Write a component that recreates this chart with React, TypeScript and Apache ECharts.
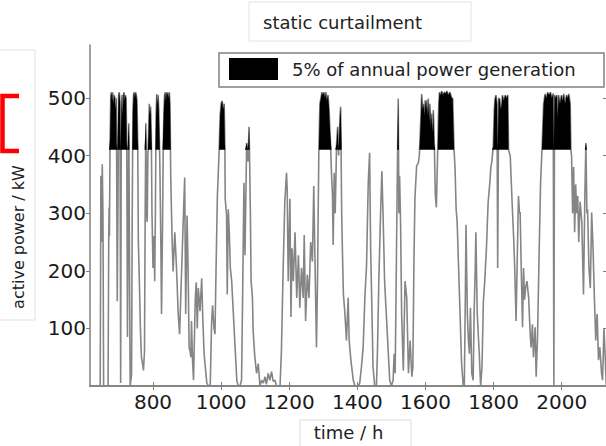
import React, { useEffect, useRef } from "react";
import * as echarts from "echarts";

// time in hours, active power in kW
const hours = [
  640, 645, 647, 649, 651, 653, 655, 668, 670, 671, 672, 674, 676, 678, 680, 682, 684, 686, 688, 690,
  692, 693, 695, 697, 699, 701, 703, 705, 707, 709, 711, 713, 715, 717, 719, 721, 723, 725, 727, 729,
  731, 733, 735, 737, 739, 741, 743, 745, 747, 749, 751, 753, 755, 757, 760, 763, 766, 769, 772, 775,
  777, 779, 781, 783, 785, 787, 789, 791, 793, 795, 797, 800, 803, 805, 807, 809, 811, 813, 815, 817,
  820, 823, 825, 828, 830, 832, 834, 836, 838, 840, 842, 844, 846, 848, 850, 852, 856, 859, 864, 869,
  874, 878, 883, 888, 893, 896, 900, 903, 906, 909, 911, 913, 916, 919, 924, 927, 930, 933, 938, 943,
  946, 950, 954, 958, 963, 968, 972, 975, 979, 982, 985, 989, 994, 997, 1000, 1003, 1006, 1009, 1011, 1012,
  1016, 1018, 1021, 1024, 1027, 1031, 1036, 1041, 1046, 1050, 1055, 1060, 1063, 1067, 1070, 1075, 1079, 1082, 1084, 1086,
  1088, 1092, 1094, 1099, 1104, 1109, 1114, 1119, 1124, 1129, 1133, 1138, 1143, 1148, 1153, 1158, 1163, 1173, 1177, 1182,
  1187, 1192, 1194, 1197, 1202, 1205, 1208, 1212, 1217, 1222, 1227, 1231, 1236, 1241, 1244, 1248, 1253, 1258, 1263, 1268,
  1270, 1272, 1275, 1280, 1283, 1285, 1287, 1290, 1293, 1296, 1299, 1302, 1305, 1308, 1310, 1314, 1317, 1320, 1324, 1327,
  1329, 1332, 1335, 1339, 1342, 1345, 1349, 1351, 1354, 1356, 1359, 1363, 1368, 1373, 1376, 1381, 1388, 1393, 1402, 1407,
  1412, 1417, 1422, 1427, 1432, 1436, 1439, 1443, 1446, 1451, 1456, 1459, 1463, 1468, 1472, 1476, 1480, 1485, 1490, 1495,
  1500, 1505, 1508, 1511, 1514, 1517, 1520, 1522, 1524, 1527, 1530, 1535, 1540, 1545, 1550, 1555, 1560, 1563, 1566, 1569,
  1574, 1579, 1582, 1584, 1589, 1592, 1594, 1597, 1599, 1602, 1604, 1607, 1608, 1611, 1613, 1616, 1618, 1621, 1623, 1626,
  1629, 1632, 1636, 1639, 1641, 1644, 1648, 1651, 1655, 1659, 1663, 1667, 1672, 1677, 1680, 1684, 1687, 1690, 1693, 1697,
  1701, 1706, 1711, 1714, 1717, 1719, 1723, 1726, 1729, 1732, 1736, 1740, 1743, 1746, 1748, 1752, 1758, 1762, 1766, 1770,
  1774, 1779, 1784, 1789, 1792, 1795, 1799, 1802, 1804, 1807, 1810, 1812, 1815, 1818, 1821, 1824, 1826, 1830, 1834, 1838,
  1842, 1844, 1849, 1852, 1856, 1859, 1862, 1866, 1869, 1873, 1876, 1878, 1881, 1885, 1888, 1891, 1894, 1898, 1903, 1907,
  1910, 1914, 1917, 1922, 1925, 1929, 1934, 1938, 1942, 1945, 1947, 1951, 1955, 1959, 1963, 1967, 1971, 1975, 1977, 1979,
  1983, 1986, 1988, 1991, 1995, 1999, 2003, 2006, 2010, 2014, 2018, 2021, 2025, 2027, 2029, 2032, 2035, 2038, 2041, 2044,
  2047, 2050, 2054, 2059, 2064, 2068, 2071, 2074, 2076, 2080, 2084, 2088, 2092, 2096, 2100, 2104, 2108, 2112, 2117, 2120,
  2124, 2127, 2131,
];

const powerKW = [
  0, 0, 365, 250, 385, 300, 0, 0, 250, 310, 260, 430, 505, 510, 495, 510, 490, 505, 500, 480,
  500, 420, 147, 300, 505, 510, 495, 5, 480, 505, 470, 505, 510, 495, 505, 500, 420, 85, 300, 456,
  200, 0, 0, 20, 300, 480, 507, 510, 500, 510, 505, 495, 430, 250, 180, 100, 50, 40, 27, 60,
  300, 456, 300, 285, 400, 440, 490, 470, 485, 440, 300, 205, 260, 182, 300, 470, 507, 490, 505, 480,
  387, 250, 125, 280, 410, 480, 505, 510, 495, 510, 505, 510, 500, 510, 490, 365, 256, 199, 267, 205,
  125, 90, 182, 273, 362, 125, 296, 205, 67, 60, 50, 113, 45, 10, 150, 180, 100, 170, 130, 187,
  120, 56, 30, 5, 0, 0, 110, 140, 100, 90, 200, 330, 405, 470, 490, 495, 480, 490, 420, 325,
  296, 159, 307, 267, 205, 182, 125, 67, 10, 0, 0, 10, 150, 353, 227, 422, 390, 450, 380, 296,
  182, 153, 96, 50, 22, 39, 0, 10, 5, 16, 3, 22, 10, 25, 8, 10, 0, 0, 60, 200,
  320, 370, 341, 182, 325, 120, 239, 182, 267, 153, 227, 136, 205, 153, 262, 113, 193, 153, 250, 216,
  280, 347, 239, 67, 182, 300, 410, 490, 500, 510, 505, 510, 500, 510, 495, 505, 480, 440, 370, 330,
  245, 370, 300, 420, 450, 400, 470, 485, 300, 239, 159, 130, 79, 153, 79, 45, 10, 0, 0, 5,
  33, 67, 153, 210, 353, 405, 239, 125, 33, 0, 0, 60, 182, 296, 373, 285, 182, 125, 67, 10,
  0, 10, 56, 22, 182, 350, 499, 300, 365, 279, 125, 27, 182, 153, 22, 79, 16, 33, 210, 325,
  382, 387, 400, 430, 507, 480, 490, 470, 496, 480, 496, 470, 499, 460, 490, 450, 473, 440, 479, 420,
  330, 310, 410, 490, 510, 505, 512, 505, 510, 508, 512, 505, 510, 500, 499, 410, 376, 307, 285, 210,
  136, 39, 0, 0, 150, 280, 125, 80, 56, 136, 22, 10, 130, 200, 267, 125, 56, 0, 33, 147,
  182, 239, 319, 353, 380, 390, 416, 480, 498, 505, 490, 205, 500, 498, 480, 490, 505, 495, 505, 500,
  505, 410, 399, 353, 296, 256, 205, 113, 205, 330, 300, 302, 210, 102, 205, 150, 170, 182, 153, 96,
  67, 107, 50, 102, 16, 85, 239, 353, 410, 460, 490, 507, 500, 510, 505, 510, 500, 508, 0, 505,
  500, 505, 467, 505, 490, 505, 495, 507, 490, 505, 500, 507, 490, 410, 400, 300, 380, 267, 350, 300,
  330, 250, 320, 285, 159, 330, 422, 300, 307, 205, 170, 301, 239, 153, 79, 125, 45, 67, 22, 10,
  100, 60, 0,
];

const curtailmentKW = 410;
const xTickValues = [800, 1000, 1200, 1400, 1600, 1800, 2000];
const yTickValues = [100, 200, 300, 400, 500];
const titleText = "static curtailment";
const legendText = "5% of annual power generation";
const xName = "time / h";
const yName = "active power / kW";

const FONT = '"DejaVu Sans", "Liberation Sans", Arial, sans-serif';
const AXIS = "#7f7f7f";

export default function App() {
  const ref = useRef<HTMLDivElement>(null);

  useEffect(() => {
    if (!ref.current) return;
    const chart = echarts.init(ref.current, undefined, { renderer: "svg" });

    const full = hours.map((h, i) => [h, powerKW[i]]);
    const capped = hours.map((h, i) => [h, Math.max(powerKW[i], curtailmentKW)]);

    const xBase = {
      type: "value",
      min: 615,
      max: 2133,
      splitLine: { show: false },
      axisLine: { show: true, lineStyle: { color: AXIS, width: 1.5 } },
    };
    const yBase = {
      type: "value",
      min: 0,
      max: 592,
      splitLine: { show: false },
      axisLine: { show: true, lineStyle: { color: AXIS, width: 1.5 } },
    };
    const plain = (v: number) => String(v);

    chart.setOption({
      animation: false,
      backgroundColor: "#ffffff",
      title: {
        text: titleText,
        left: 263,
        top: 13,
        padding: 0,
        textStyle: { fontFamily: FONT, fontSize: 18, fontWeight: "normal", color: "#222" },
      },
      legend: {
        data: [legendText],
        left: 229,
        top: 58,
        padding: 0,
        itemWidth: 49,
        itemHeight: 22,
        icon: "rect",
        itemStyle: { color: "#000" },
        textStyle: { fontFamily: FONT, fontSize: 18, color: "#222", padding: [0, 0, 0, 9] },
        z: 6,
      },
      grid: { left: 90, top: 45, width: 517, height: 346, containLabel: false },
      xAxis: [
        {
          ...xBase,
          position: "bottom",
          name: xName,
          nameLocation: "middle",
          nameGap: 37,
          nameTextStyle: { fontFamily: FONT, fontSize: 18, color: "#222" },
          axisTick: { show: true, inside: true, length: 4, customValues: xTickValues, lineStyle: { color: AXIS } },
          axisLabel: { customValues: xTickValues, formatter: plain, fontFamily: FONT, fontSize: 20, color: "#1a1a1a", margin: 6 },
        },
        {
          ...xBase,
          position: "top",
          axisTick: { show: true, inside: true, length: 4, customValues: xTickValues, lineStyle: { color: AXIS } },
          axisLabel: { show: false },
        },
      ],
      yAxis: [
        {
          ...yBase,
          position: "left",
          axisTick: { show: true, inside: false, length: 4, customValues: yTickValues, lineStyle: { color: AXIS } },
          axisLabel: { customValues: yTickValues, formatter: plain, fontFamily: FONT, fontSize: 20, color: "#1a1a1a", margin: 4 },
        },
        {
          ...yBase,
          position: "right",
          axisTick: { show: true, inside: true, length: 4, customValues: yTickValues, lineStyle: { color: AXIS } },
          axisLabel: { show: false },
        },
      ],
      graphic: [
        { type: "rect", shape: { x: 249, y: 2, width: 222, height: 39 }, style: { fill: "none", stroke: "#e2e2e2", lineWidth: 1 }, z: 1 },
        { type: "rect", shape: { x: -2, y: 50, width: 37, height: 270 }, style: { fill: "none", stroke: "#e2e2e2", lineWidth: 1 }, z: 1 },
        { type: "rect", shape: { x: 300, y: 420, width: 111, height: 40 }, style: { fill: "none", stroke: "#dcdcdc", lineWidth: 1 }, z: 1 },
        { type: "rect", shape: { x: 219, y: 53, width: 385, height: 34 }, style: { fill: "#fff", stroke: "#808080", lineWidth: 1.5 }, z: 5 },
        {
          type: "polyline",
          shape: { points: [[19, 96], [2.5, 96], [2.5, 151], [19, 151]] },
          style: { fill: "none", stroke: "#ff0000", lineWidth: 4.5 },
          z: 5,
        },
        {
          type: "text",
          x: 18,
          y: 237,
          rotation: Math.PI / 2,
          style: { text: yName, fontFamily: FONT, fontSize: 16, fill: "#222", align: "center", verticalAlign: "middle" },
          z: 5,
        },
      ],
      series: [
        {
          type: "line",
          name: "power",
          data: full,
          symbol: "none",
          showSymbol: false,
          lineStyle: { color: "#858585", width: 1.6 },
          itemStyle: { color: "#858585" },
          z: 2,
          silent: true,
        },
        {
          type: "line",
          name: legendText,
          data: capped,
          symbol: "none",
          showSymbol: false,
          color: "#000",
          lineStyle: { width: 0, color: "#000" },
          itemStyle: { color: "#000" },
          areaStyle: { color: "#000", opacity: 1, origin: curtailmentKW },
          z: 3,
          silent: true,
        },
      ],
    });

    return () => chart.dispose();
  }, []);

  return (
    <div style={{ position: "fixed", left: 0, top: 0, width: 606, height: 446, overflow: "hidden", background: "#fff" }}>
      <div ref={ref} style={{ width: 612, height: 446 }} />
    </div>
  );
}
